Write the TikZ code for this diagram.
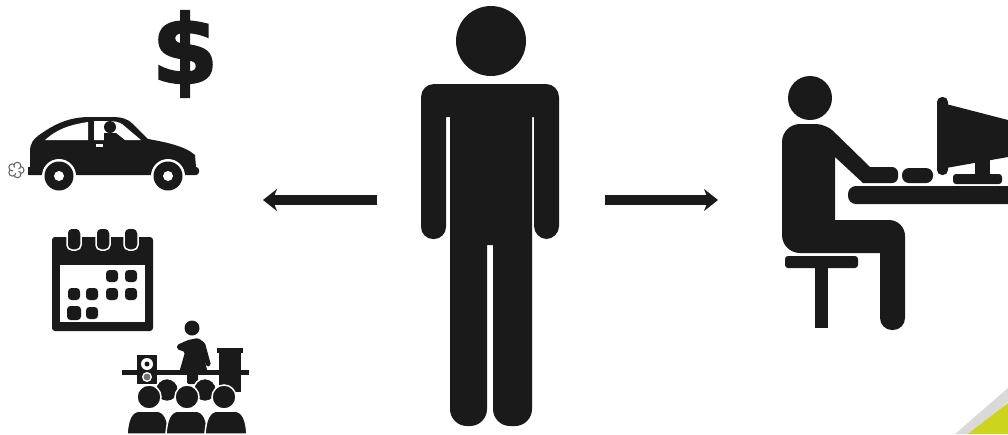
\documentclass[tikz,border=0pt]{standalone}
\usepackage{fontspec}
\usetikzlibrary{arrows.meta}
\newfontfamily\dollarfont{DejaVu Sans Bold}[FakeBold=2.5]
\definecolor{ink}{HTML}{1A1A1A}
\definecolor{corneryellow}{HTML}{CDD41E}
\tikzset{
  ink/.style={fill=ink, draw=none},
  cutout/.style={fill=white, draw=none},
  outlined/.style={fill=ink, draw=white, line width=0.03cm},
  bigarrow/.style={draw=ink, line width=0.2cm, -{Stealth[length=0.28cm, width=0.44cm]}}
}
\begin{document}
\begin{tikzpicture}[x=0.02cm, y=-0.02cm]
 \useasboundingbox (0,0) rectangle (1008,434);
 % Central figure
 \fill[ink] (491,41) circle (35);
 \fill[ink] (490,84) [rounded corners=0.26cm] -- (559,84) -- (559,239) -- (534,239) [sharp corners] -- (534,117) -- (532,117)
  [rounded corners=0.34cm] -- (532,426) -- (493,426) [sharp corners] -- (493,245) -- (487,245)
  [rounded corners=0.34cm] -- (487,426) -- (450,426) [sharp corners] -- (450,117) -- (446,117)
  [rounded corners=0.24cm] -- (446,239) -- (421,239) [rounded corners=0.26cm] -- (421,84) -- cycle;
 % Arrows
 \coordinate (leftstart) at (377,200);
 \coordinate (leftend) at (263,200);
 \coordinate (rightstart) at (605,200);
 \coordinate (rightend) at (718,200);
 \draw[bigarrow] (leftstart) -- (leftend);
 \draw[bigarrow] (rightstart) -- (rightend);
 % Dollar sign
 \node[text=ink, inner sep=0pt] (dollar) at (185,54) {\fontsize{54}{54}\selectfont\dollarfont\$};
 % Car
 \fill[ink] (28,167) -- (30,167) -- (30,152) .. controls (30,143) and (33,139) .. (42,133) .. controls (58,122) and (72,117) .. (90,117) -- (112,117) .. controls (122,117) and (128,119) .. (133,124) -- (148,139) .. controls (165,142) and (185,146) .. (195,155) -- (196,167) [rounded corners=0.06cm] -- (199,167) -- (199,175) [sharp corners] -- (28,175) -- cycle;
 \fill[cutout] (45,140) .. controls (56,130) and (68,125) .. (88,122) -- (88,140) -- cycle;
 \fill[cutout] (94,121) -- (108,121) .. controls (114,121) and (119,122) .. (122,124) -- (141,140) -- (94,140) -- cycle;
 \fill[ink] (110,127) circle (6);
 \fill[ink] (104,133) -- (116,133) -- (126,141) -- (104,141) -- cycle;
 \fill[cutout] (96,144) rectangle (103,147);
 \foreach \wheelx in {59,168} {
  \fill[cutout] (\wheelx,176) circle (17);
  \fill[ink] (\wheelx,176) circle (14.5);
  \fill[cutout] (\wheelx,176) circle (5);
 }
 \foreach \a in {0,72,...,288}
  \draw[black!60, semithick, fill=white] (16,170) ++(\a:4.5) circle (3.5);
 \fill[white] (16,170) circle (3);
 % Calendar
 \fill[ink, rounded corners=0.06cm] (52,237) rectangle (153,331);
 \fill[cutout] (60,265) rectangle (145,322);
 \foreach \ringx in {74,103,131}
  \draw[outlined, rounded corners=0.1cm] (\ringx-7,228) rectangle (\ringx+7,250);
 \foreach \dotx/\doty in {112/276,131/276,74/294,92/294,112/294,131/294,92/313}
  \fill[ink, rounded corners=0.07cm] (\dotx-6,\doty-6) rectangle (\dotx+6,\doty+6);
 \fill[ink, rounded corners=0.07cm] (67,306) rectangle (81,320);
 % Speaker and audience
 \fill[ink] (122,370) rectangle (249,375);
 \fill[ink] (137,355) rectangle (157,384);
 \fill[cutout] (147,364) circle (6);
 \fill[ink] (147,364) circle (2.5);
 \fill[cutout] (147,377) circle (5);
 \fill[black!55] (147,377) circle (3.5);
 \fill[ink] (217,348) rectangle (243,353);
 \fill[ink] (219,353) rectangle (241,392);
 \fill[ink] (192,328) circle (7.5);
 \fill[ink, rounded corners=0.03cm] (188,340) -- (198,338) -- (205,343) -- (211,365) -- (207,367) -- (203,355) -- (208,373) -- (198,373) -- (198,384) -- (187,384) -- (187,373) -- (179,373) -- (185,352) -- (177,349) -- (177,345) -- cycle;
 \foreach \headx in {167,205}
  \draw[outlined] (\headx,390) circle (11.5);
 \foreach \headx in {149,187,224}
  \draw[outlined] (\headx,397) circle (12);
 \foreach \bodyx in {148,187,226}
  \draw[outlined] (\bodyx-21,434) .. controls (\bodyx-20,420) and (\bodyx-17,411) .. (\bodyx-8,411) -- (\bodyx+8,411) .. controls (\bodyx+17,411) and (\bodyx+20,420) .. (\bodyx+21,434) -- cycle;
 % Figure at the desk
 \fill[ink] (810,98) circle (22);
 \fill[ink] (835,157) -- (835,220) [rounded corners=0.32cm] -- (905,220) [rounded corners=0.24cm] -- (905,330) -- (880,330) [sharp corners] -- (880,253) [rounded corners=0.36cm] -- (782,253) [rounded corners=0.36cm] -- (782,124) [rounded corners=0.2cm] -- (826,124) [sharp corners] -- (870,167) [rounded corners=0.12cm] -- (898,167) -- (898,183) [sharp corners] -- (863,183) -- cycle;
 \fill[ink, rounded corners=0.06cm] (785,256) rectangle (858,268);
 \fill[ink] (815,268) rectangle (828,328);
 % Desk and computer
 \fill[ink, rounded corners=0.16cm] (848,186) rectangle (1020,204);
 \fill[ink, rounded corners=0.14cm] (902,168) rectangle (933,183);
 \fill[ink, rounded corners=0.1cm] (937,97) rectangle (948,175);
 \fill[ink] (946,104) -- (1008,120) -- (1008,157) -- (946,168) -- cycle;
 \fill[ink] (975,155) rectangle (990,176);
 \fill[ink, rounded corners=0.06cm] (953,174) rectangle (1002,184);
 % Page corner
 \fill[black!15] (955,434) -- (1008,388) -- (1008,402) -- (972,434) -- cycle;
 \fill[corneryellow] (968,434) -- (1008,403) -- (1008,434) -- cycle;
\end{tikzpicture}
\end{document}
